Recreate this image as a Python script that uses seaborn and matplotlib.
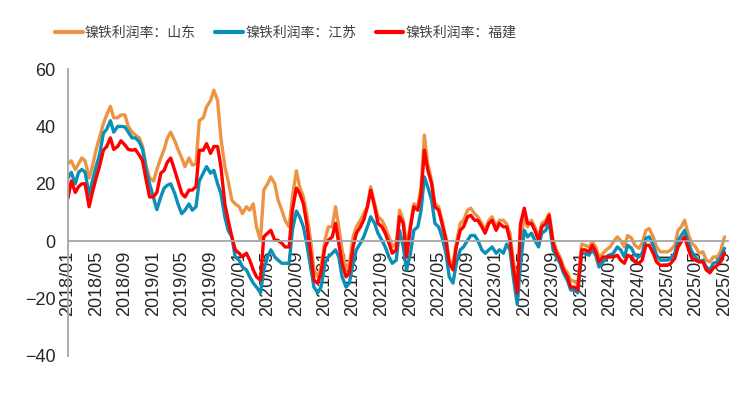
import pandas as pd
import numpy as np
import seaborn as sns
import matplotlib.pyplot as plt
import matplotlib.dates as mdates

# 数据：镍铁利润率（半月度，2018/01 - 2025/09）
shandong = [27, 28, 25, 27, 29, 28, 22, 26, 32, 36, 41, 44, 47, 43, 43, 44, 44, 40, 38, 37, 36, 33, 26, 22,
            21, 25, 29, 32, 36, 38, 35, 32, 29, 26, 29, 26.5, 27, 42, 43, 46.8, 49, 52.6, 49, 36, 26, 21, 14.3, 13,
            12, 9.6, 12, 10.8, 13, 5, 0.3, 17.8, 20, 22.4, 20, 14.3, 10.8, 7.3, 5, 15.4, 24.5, 19, 15.4, 9.6, 0.3, -10, -12.4, -9,
            0.3, 5, 5, 12, 5, -3, -10, -7.7, 1.5, 5, 7.3, 9.6, 12, 19, 13, 8.5, 7.3, 5, 1.5, -2, -0.7, 10.8, 7.3, -2,
            6.2, 13, 12, 19, 37, 27, 21, 13, 12, 7.3, 1.5, -6.6, -7.7, -0.7, 6.2, 7.3, 10.8, 11.5, 9.6, 8.5, 6.2, 3.8, 7.3, 8.5,
            5, 7.3, 7.3, 6, 2.8, -6.6, -15, 0, 8.5, 5, 7.3, 5, 1.5, 6.2, 7.3, 9.6, 0.3, -3, -5.5, -9, -11, -13.6, -14, -15,
            -1, -1.4, -2, -0.2, -2, -5.5, -4.2, -3, -2, -0.2, 1.5, 0.3, -2, 2, 1, -1.4, -2.5, -0.7, 3.8, 4.4, 1.5, -2, -3.7, -3.7,
            -3.7, -3, -1.4, 3.8, 5, 7.3, 2, -0.7, -2, -4.2, -3.7, -6.6, -7.2, -5.5, -5.5, -3.7, 1.5]
jiangsu = [22, 24, 20, 24, 25, 24, 16, 21, 26, 30, 37.6, 39, 42, 38, 40, 40, 39.8, 38, 36, 36, 34.6, 32, 24.7, 20,
           15, 11, 15.5, 18.5, 19.5, 20, 16.7, 13, 9.6, 10.8, 13, 10.8, 12, 21, 23.7, 26, 23.7, 24.7, 20, 16.7, 8.5, 3.8, 1.5, -5.5,
           -6.6, -9, -10, -12.4, -14.6, -16, -18, -10, -5.5, -3, -5.5, -6.6, -7.7, -7.7, -7.7, 3.8, 10.5, 8.5, 5, -0.7, -9, -16, -18, -16,
           -7.7, -5.5, -4.2, -3, -5.5, -12.4, -16, -14.6, -7.7, -3, -0.7, 1.5, 5, 8.5, 6.2, 2.8, 0.3, -2, -5.5, -7.7, -6.6, 3.8, -2, -10,
           -4.2, 3.8, 5, 10.8, 22.4, 19, 14.3, 6.2, 5, 1.5, -4.2, -12.4, -14.6, -7.7, -3, -2, 0.3, 2, 2, 0.3, -3, -4.2, -3, -2,
           -4.2, -3, -4.2, -1, -3, -12.4, -22, -8, 3.8, 1.5, 2.8, 0.3, -2, 2.8, 3.8, 6.7, -3, -5.5, -7.7, -11, -13.6, -17, -17, -18,
           -4.2, -4.2, -4.9, -3, -4.9, -9, -7.2, -6, -4.9, -4.2, -2, -3, -5.5, -1.4, -2.5, -4.9, -5.5, -4.2, 1, 1.5, -1.4, -4.9, -6.6, -6.6,
           -6.6, -6, -4.2, 0.3, 2, 3.8, -0.7, -3.7, -5.5, -7.2, -6.6, -9, -10, -7.7, -7.2, -5.5, -2.5]
fujian = [15, 21, 17, 19, 20, 20, 12, 17, 22, 26, 31.7, 33, 36, 32, 33, 35, 33.5, 32, 31.7, 32, 30, 28, 21, 15.4,
          15.5, 17, 23.7, 24.7, 27.6, 29, 24.7, 21, 16.7, 15.4, 17.8, 17.8, 19, 31.7, 31.7, 34, 30.6, 33, 33, 26, 13, 7.3, 1.5, -3,
          -4.2, -5.5, -4.2, -6.6, -10, -12.4, -13.6, 1.5, 2.8, 3.8, 0.3, 0.3, -0.7, -2, -2, 10.8, 18.5, 16.7, 13, 6.2, -4.2, -13.6, -14.6, -11,
          -2, 0.3, 1.5, 6.2, -0.7, -7.7, -12.4, -11, -2, 2.8, 5, 7.3, 12, 17.8, 12, 6.2, 5, 2.8, -0.7, -4.2, -3, 8.5, 6.2, -5.5,
          5, 12, 10.8, 16.7, 31.7, 25, 20, 12, 10.8, 6.2, 0.3, -7.7, -10, -2, 3.8, 5, 8.5, 9, 7.3, 7.3, 5, 2.8, 6.2, 7.3,
          3.8, 6.2, 5, 5, 0.3, -9, -18, 6, 11.5, 6.2, 6.2, 3.8, 0.3, 5, 6.2, 9, -0.7, -4.2, -6.6, -10, -12.4, -16, -16, -17,
          -3, -3, -3.7, -1.4, -3.7, -7.2, -5.5, -5.5, -5.5, -5.5, -4.9, -6.6, -7.7, -4.9, -5.5, -7.2, -7.7, -6.6, -1.4, -1.4, -4.2, -7.2, -8.4, -8.4,
          -8.4, -7.7, -6, -2, -0.2, 1.5, -3, -6, -6.6, -7.2, -7.2, -10, -11, -9.4, -8.4, -7.2, -4]

names = ["镍铁利润率：山东", "镍铁利润率：江苏", "镍铁利润率：福建"]
colors = ["#EC9442", "#0A90B8", "#FF0000"]

dates = pd.date_range("2018-01-01", periods=len(shandong), freq="SMS")

df = pd.DataFrame({"date": dates, names[0]: shandong, names[1]: jiangsu, names[2]: fujian})
df_long = df.melt(id_vars="date", var_name="series", value_name="value")

sns.set_style("white")
plt.rcParams['font.family'] = ['Liberation Sans', 'Noto Sans CJK SC', 'DejaVu Sans']

fig = plt.figure(figsize=(7.5, 3.94), dpi=100)
ax = fig.add_axes([68 / 750, (394 - 356) / 394, 660 / 750, 287 / 394])

sns.lineplot(data=df_long, x="date", y="value", hue="series", palette=colors,
             linewidth=2.4, ax=ax, legend=True)

ax.set_ylim(-40, 60)
ax.set_yticks([-40, -20, 0, 20, 40, 60])
ax.set_xlim(pd.Timestamp("2018-01-01"), pd.Timestamp("2025-09-16"))
ax.xaxis.set_major_locator(mdates.MonthLocator(bymonth=[1, 5, 9]))
ax.xaxis.set_major_formatter(mdates.DateFormatter("%Y/%m"))
ax.set_xlabel("")
ax.set_ylabel("")

for s in ["top", "right"]:
    ax.spines[s].set_visible(False)
ax.spines["bottom"].set_position(("data", 0))
ax.spines["bottom"].set_color("#A6A6A6")
ax.spines["left"].set_color("#A6A6A6")
ax.spines["bottom"].set_linewidth(1.3)
ax.spines["left"].set_linewidth(1.3)

ax.tick_params(axis="x", direction="out", length=5, color="#A6A6A6", width=1.3,
               labelsize=13, labelrotation=90, pad=2)
ax.tick_params(axis="y", direction="out", length=5, color="#A6A6A6", width=1.3,
               labelsize=13, pad=4)

handles, labels = ax.get_legend_handles_labels()
leg = ax.legend(handles, labels, loc="center", bbox_to_anchor=(0.33, 1.125), ncol=3,
                frameon=False, fontsize=10, handlelength=2.0, handletextpad=0.15,
                columnspacing=1.4)
for t in leg.get_texts():
    t.set_color("#404040")
for l in leg.get_lines():
    l.set_linewidth(3)

fig.savefig("out.png", dpi=100)
